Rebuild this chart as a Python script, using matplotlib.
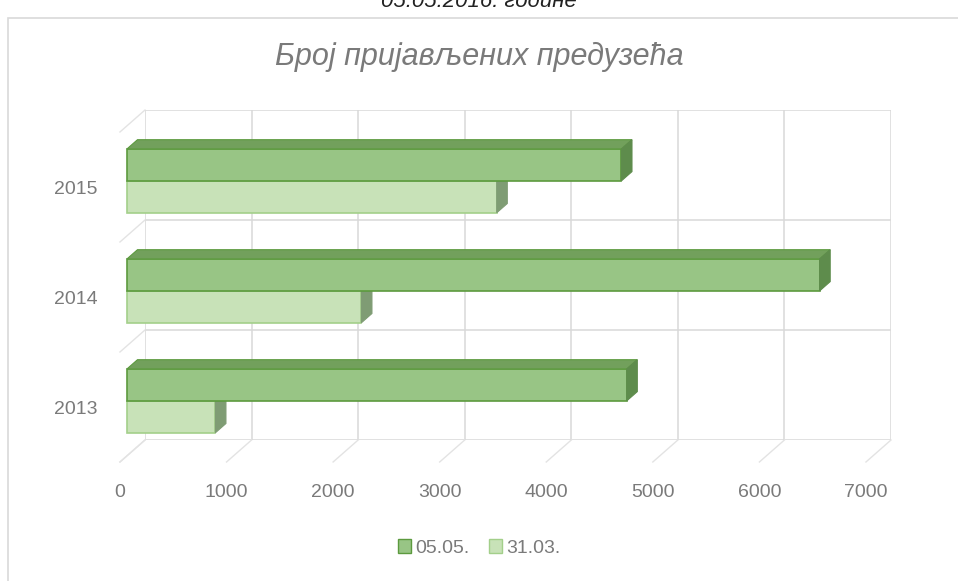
import numpy as np
import matplotlib.pyplot as plt
from matplotlib.patches import Polygon, Patch, Rectangle

# -----------------------
# Data
# -----------------------
years = ['2013', '2014', '2015']
series_names = ['05.05.', '31.03.']
values_0505 = [4690, 6500, 4640]
values_3103 = [830, 2200, 3470]
x_ticks = [0, 1000, 2000, 3000, 4000, 5000, 6000, 7000]

# colours: front, top, side, edge
col_0505 = ('#98c585', '#72a05c', '#5e8c4c', '#5c9a3e')
col_3103 = ('#c8e2b8', '#a8cc94', '#7f9c74', '#a3cf8a')
grid_col = '#d9d9d9'
text_col = '#7a7a7a'

plt.rcParams['font.family'] = ['Liberation Sans', 'DejaVu Sans']

fig = plt.figure(figsize=(9.58, 5.81), dpi=100)
W, H = 958, 581

# chart frame
fig.patches.append(Rectangle((8 / W, -0.01), 1.0, 1 - 18 / H + 0.01, transform=fig.transFigure,
                             fill=False, edgecolor=grid_col, linewidth=1.2))

# caption above the frame (cut off at the top edge, as in the source image)
fig.text(0.5, 1 - 7 / H, '05.05.2016. године', ha='center', va='baseline',
         fontsize=16, style='italic', color='#222222')

# back wall of the 3d chart
ax = fig.add_axes([145 / W, 1 - 440 / H, (891 - 145) / W, 330 / H])
for s in ax.spines.values():
    s.set_visible(False)

# depth of the floor (in data units) and where the bars sit in it
DX, DY = -235, -0.2
fx, fy = 0.72 * DX, 0.72 * DY
bx, by = 0.30 * DX, 0.30 * DY
h = 0.29

# grid on the back wall + diagonals on floor and side wall
ax.vlines(x_ticks, -0.5, 2.5, color=grid_col, lw=1.1, zorder=0)
ax.hlines([-0.5, 0.5, 1.5, 2.5], 0, 7000, color=grid_col, lw=1.1, zorder=0)
for v in x_ticks:
    ax.plot([v, v + DX], [-0.5, -0.5 + DY], color='#e3e3e3', lw=1, clip_on=False, zorder=0)
for b in [-0.5, 0.5, 1.5, 2.5]:
    ax.plot([0, DX], [b, b + DY], color='#e3e3e3', lw=1, clip_on=False, zorder=0)


def draw_bars(vals, base, cols, z):
    front, top, side, edge = cols
    y = np.arange(len(vals))
    ax.barh(y + base + h / 2 + fy, vals, left=fx, height=h, color=front,
            edgecolor=edge, linewidth=1.2, clip_on=False, zorder=z)
    for i, v in enumerate(vals):
        yb = i + base
        yt = yb + h
        ax.add_patch(Polygon([(fx, yt + fy), (fx + v, yt + fy), (bx + v, yt + by), (bx, yt + by)],
                             closed=True, facecolor=top, edgecolor=edge, lw=0.8,
                             clip_on=False, zorder=z))
        ax.add_patch(Polygon([(fx + v, yb + fy), (fx + v, yt + fy), (bx + v, yt + by), (bx + v, yb + by)],
                             closed=True, facecolor=side, edgecolor=side, lw=0.8,
                             clip_on=False, zorder=z))


draw_bars(values_3103, -h, col_3103, 2)
draw_bars(values_0505, 0, col_0505, 3)

ax.set_xlim(0, 7000)
ax.set_ylim(-0.5, 2.5)

# tick labels sit on the front edge of the floor
ax.set_xticks([])
for v in x_ticks:
    ax.annotate(str(v), (v + DX, -0.5 + DY), xytext=(0, -22), textcoords='offset points',
                ha='center', va='center', fontsize=14, color=text_col, annotation_clip=False)
ax.set_yticks([i + DY for i in range(len(years))], years)
ax.tick_params(axis='y', length=0, pad=34, labelsize=14, labelcolor=text_col)

fig.text(0.5, 1 - 57 / H, 'Број пријављених предузећа', ha='center', va='center',
         fontsize=22, style='italic', color=text_col)

handles = [Patch(facecolor=col_0505[0], edgecolor=col_0505[3]),
           Patch(facecolor=col_3103[0], edgecolor=col_3103[3])]
fig.legend(handles, series_names, loc='center', bbox_to_anchor=(0.5, 1 - 548 / H), ncol=2,
           frameon=False, fontsize=14, labelcolor=text_col, handlelength=0.7, handleheight=0.7,
           handletextpad=0.2, columnspacing=1.0)

fig.savefig('out.png', dpi=100)
